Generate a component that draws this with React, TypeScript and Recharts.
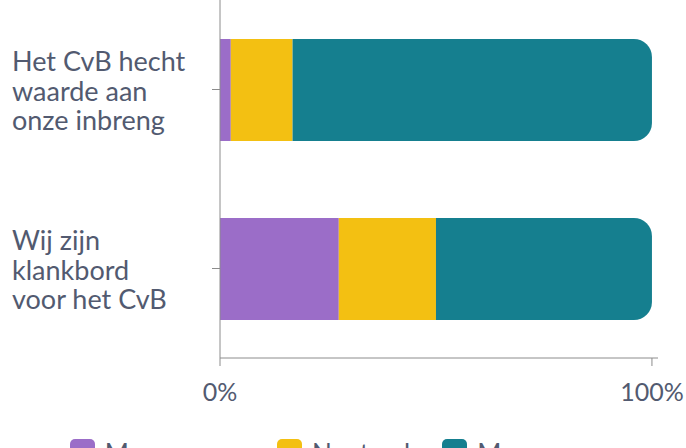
import React from "react";
import { BarChart, Bar, XAxis, YAxis, Legend } from "recharts";

const categories = ["Het CvB hecht waarde aan onze inbreng", "Wij zijn klankbord voor het CvB"];
const categoryLines = [
  ["Het CvB hecht", "waarde aan", "onze inbreng"],
  ["Wij zijn", "klankbord", "voor het CvB"],
];
const meeOneens = [2.5, 27.5];
const neutraal = [14.3, 22.5];
const meeEens = [83.2, 50];
const xTicks = [0, 100];

const seriesNames = ["Mee oneens", "Neutraal", "Mee eens"];
const seriesColors = ["#9b6dc8", "#f3c012", "#157f8f"];

const data = categories.map((c, i) => ({
  name: c,
  oneens: meeOneens[i],
  neutraal: neutraal[i],
  eens: meeEens[i],
}));

const FONT = "Lato, 'Noto Sans', sans-serif";
const TEXT = "#525a70";
const AXIS = "#8c8c8c";

const YTick = (props: any) => {
  const { y, index } = props;
  const lines = categoryLines[index] || [];
  const lh = 29.3;
  const start = y - lh + 11;
  return (
    <text x={12} y={start} textAnchor="start" fill={TEXT} fontSize={27} fontFamily={FONT}>
      {lines.map((l, i) => (
        <tspan key={i} x={12} y={start + i * lh}>
          {l}
        </tspan>
      ))}
    </text>
  );
};

const LegendContent = () => (
  <div
    style={{
      display: "flex",
      justifyContent: "center",
      alignItems: "flex-start",
      fontFamily: FONT,
      fontSize: 26,
      color: TEXT,
      lineHeight: "26px",
    }}
  >
    {seriesNames.map((n, i) => (
      <div key={n} style={{ display: "flex", alignItems: "flex-start", marginRight: i < 2 ? 32 : 0 }}>
        <div
          style={{
            width: 25,
            height: 25,
            borderRadius: 5,
            background: seriesColors[i],
            marginRight: 10,
          }}
        />
        <span style={{ marginTop: 1 }}>{n}</span>
      </div>
    ))}
  </div>
);

export default function App() {
  return (
    <div style={{ position: "absolute", left: 0, top: 0, width: 686, height: 448, overflow: "hidden", background: "#fff" }}>
      <BarChart
        width={686}
        height={448}
        data={data}
        layout="vertical"
        margin={{ top: 0, right: 28, bottom: 0, left: 0 }}
      >
        <XAxis
          type="number"
          domain={[0, 101.4]}
          ticks={xTicks}
          tickFormatter={(v: number) => `${v}%`}
          stroke={AXIS}
          tickSize={8}
          tickMargin={17}
          height={90}
          tick={{ fill: TEXT, fontSize: 25, fontFamily: FONT }}
          allowDataOverflow
        />
        <YAxis
          type="category"
          dataKey="name"
          width={220}
          stroke={AXIS}
          tickSize={8}
          tick={<YTick />}
          interval={0}
        />
        <Legend
          verticalAlign="middle"
          align="center"
          layout="horizontal"
          wrapperStyle={{ top: 439, left: 0, width: 658 }}
          content={<LegendContent />}
        />
        <Bar dataKey="oneens" name={seriesNames[0]} stackId="a" fill={seriesColors[0]} barSize={102} isAnimationActive={false} />
        <Bar dataKey="neutraal" name={seriesNames[1]} stackId="a" fill={seriesColors[1]} barSize={102} isAnimationActive={false} />
        <Bar dataKey="eens" name={seriesNames[2]} stackId="a" fill={seriesColors[2]} barSize={102} radius={[0, 18, 18, 0]} isAnimationActive={false} />
      </BarChart>
    </div>
  );
}
